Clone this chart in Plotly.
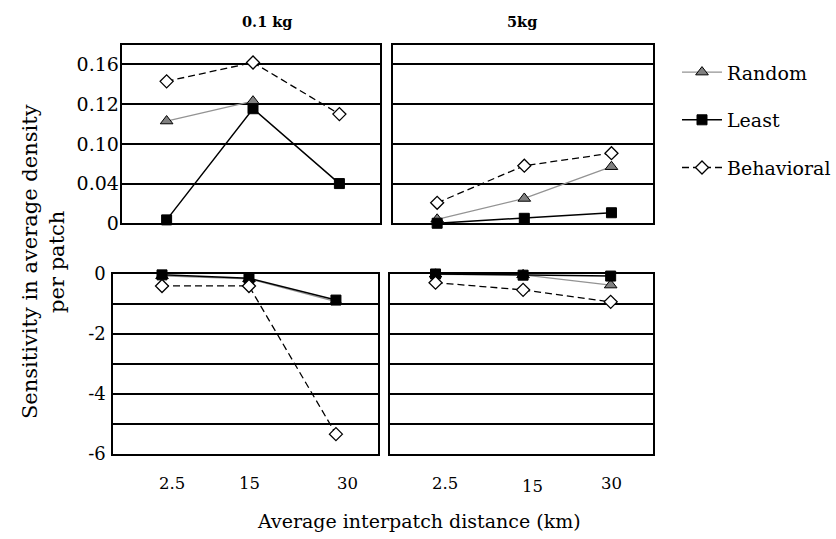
import plotly.graph_objects as go

W, H = 836, 539

categories = ["2.5", "15", "30"]
series_names = ["Random", "Least", "Behavioral"]

# Top panels (positive sensitivity)
top_01kg_random = [0.103, 0.123, None]
top_01kg_least = [0.0034, 0.1154, 0.040]
top_01kg_behav = [0.143, 0.162, 0.110]

top_5kg_random = [0.004, 0.025, 0.057]
top_5kg_least = [0.0, 0.005, 0.0106]
top_5kg_behav = [0.0206, 0.058, 0.0706]

# Bottom panels (negative sensitivity)
bot_01kg_random = [-0.06, -0.16, -0.92]
bot_01kg_least = [-0.03, -0.14, -0.87]
bot_01kg_behav = [-0.40, -0.40, -5.34]

bot_5kg_random = [-0.01, -0.03, -0.37]
bot_5kg_least = [0.0, -0.04, -0.07]
bot_5kg_behav = [-0.29, -0.53, -0.93]

top_tickvals = [0, 0.04, 0.08, 0.12, 0.16]
top_ticktext = ["0", "0.04", "0.10", "0.12", "0.16"]
bot_tickvals = [-6, -5, -4, -3, -2, -1, 0]
bot_ticktext = ["-6", "", "-4", "", "-2", "", "0"]

panel_titles = ["0.1 kg", "5kg"]
x_title = "Average interpatch distance (km)"
y_title = "Sensitivity in average density<br>per patch"

FONT = "DejaVu Serif"

# observed rendering: paper spans y from ~9.5px to ~529.5px
Y_OFF, Y_SPAN = 9.5, 520.0

def px_x(p):
    return p / W

def px_y(p):
    return 1 - (p - Y_OFF) / Y_SPAN

styles = {
    "Random": dict(line=dict(color="#939393", width=1.3),
                   marker=dict(symbol="triangle-up", size=11, color="#808080",
                               line=dict(color="#000", width=1))),
    "Least": dict(line=dict(color="#000", width=1.5),
                  marker=dict(symbol="square", size=10, color="#000",
                              line=dict(color="#000", width=1))),
    "Behavioral": dict(line=dict(color="#000", width=1.3, dash="7px,4px"),
                       marker=dict(symbol="diamond", size=10, color="#fff",
                                   line=dict(color="#000", width=1.3))),
}

fig = go.Figure()

panels = [
    ("x", "y", [top_01kg_random, top_01kg_least, top_01kg_behav], True),
    ("x2", "y2", [top_5kg_random, top_5kg_least, top_5kg_behav], False),
    ("x3", "y3", [bot_01kg_random, bot_01kg_least, bot_01kg_behav], False),
    ("x4", "y4", [bot_5kg_random, bot_5kg_least, bot_5kg_behav], False),
]

for xa, ya, data, show in panels:
    for name, vals in zip(series_names, data):
        fig.add_trace(go.Scatter(
            x=categories, y=vals, name=name, mode="lines+markers",
            xaxis=xa, yaxis=ya, showlegend=show, legendgroup=name,
            connectgaps=False, cliponaxis=False, **styles[name]))

axis_common = dict(showline=True, linecolor="#000", linewidth=2, mirror=True,
                   ticks="", zeroline=False)
xcommon = dict(axis_common, type="category",
               showticklabels=False, showgrid=False)
ytop = dict(axis_common, range=[0, 0.18], tickvals=top_tickvals,
            showgrid=True, gridcolor="#000", gridwidth=1.5)
ybot = dict(axis_common, range=[-6, 0], tickvals=bot_tickvals,
            showgrid=True, gridcolor="#000", gridwidth=1.5)

fig.update_layout(
    width=W, height=H,
    margin=dict(l=0, r=0, t=0, b=0),
    paper_bgcolor="#fff", plot_bgcolor="#fff",
    font=dict(family=FONT, size=18, color="#000"),
    xaxis=dict(xcommon, domain=[px_x(121.7), px_x(380)], anchor="y",
               range=[-0.52, 2.47]),
    xaxis2=dict(xcommon, domain=[px_x(392.7), px_x(653.3)], anchor="y2",
                range=[-0.51, 2.48]),
    xaxis3=dict(xcommon, domain=[px_x(113.3), px_x(377.7)], anchor="y3",
                range=[-0.56, 2.48]),
    xaxis4=dict(xcommon, domain=[px_x(390), px_x(652.7)], anchor="y4",
                range=[-0.52, 2.48]),
    yaxis=dict(ytop, domain=[px_y(223), px_y(43.3)], anchor="x",
               ticktext=top_ticktext, showticklabels=True,
               ticklabelstandoff=-3,
               tickfont=dict(family=FONT, size=19)),
    yaxis2=dict(ytop, domain=[px_y(223), px_y(43.3)], anchor="x2",
                showticklabels=False),
    yaxis3=dict(ybot, domain=[px_y(455), px_y(274)], anchor="x3",
                ticktext=bot_ticktext, showticklabels=True,
                ticklabelstandoff=2,
                tickfont=dict(family=FONT, size=18)),
    yaxis4=dict(ybot, domain=[px_y(455), px_y(274)], anchor="x4",
                showticklabels=False),
    legend=dict(x=px_x(677), y=px_y(52), xanchor="left", yanchor="top",
                font=dict(family=FONT, size=19), tracegroupgap=20,
                bgcolor="rgba(0,0,0,0)", itemwidth=40),
    showlegend=True,
)

annotations = []
def ann(text, cx, cy, size, angle=0):
    return dict(text=text, x=px_x(cx), y=px_y(cy), xref="paper", yref="paper",
                xanchor="center", yanchor="middle", showarrow=False,
                textangle=angle, font=dict(family=FONT, size=size))

for txt, cx in zip(panel_titles, [267, 522]):
    annotations.append(ann("<b>" + txt + "</b>", cx, 20, 14.5))

xtick_px = [[172, 249, 347], [445, 532, 611]]
xtick_py = [[485, 485, 485], [485, 488, 485]]
for row_x, row_y in zip(xtick_px, xtick_py):
    for lab, cx, cy in zip(categories, row_x, row_y):
        annotations.append(ann(lab, cx, cy, 16.5))

annotations.append(ann(x_title, 419, 522, 19))
annotations.append(ann(y_title, 43, 262, 21, -90))
fig.update_layout(annotations=annotations)

fig.write_html("out.html")
